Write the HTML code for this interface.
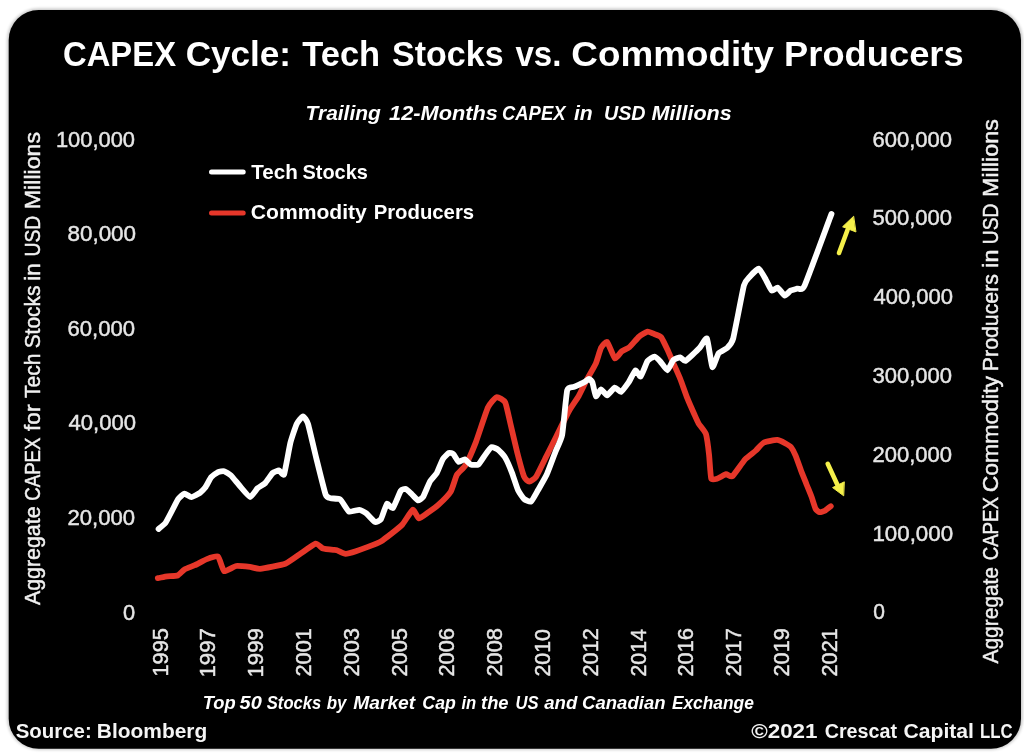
<!DOCTYPE html>
<html><head><meta charset="utf-8"><style>
html,body{margin:0;padding:0;background:#fff;width:1024px;height:754px;overflow:hidden}
svg{display:block;filter:blur(0.6px)}
text{font-family:"Liberation Sans", sans-serif}
.title{font-weight:bold;font-size:35.6px;fill:#fff}
.sub{font-weight:bold;font-style:italic;font-size:20.0px;fill:#fff}
.leg{font-weight:bold;font-size:19.9px;fill:#fff}
.ax{font-size:21.4px;fill:#e6e6e6;stroke:#e6e6e6;stroke-width:0.45px}
.yr{font-size:21.8px;fill:#e6e6e6;stroke:#e6e6e6;stroke-width:0.45px}
.ytl{font-size:21.2px;fill:#f0f0f0;stroke:#f0f0f0;stroke-width:0.45px}
.cap{font-weight:bold;font-style:italic;font-size:17.5px;fill:#fff}
.src{font-weight:bold;font-size:20.3px;fill:#f5f5f5}

</style></head><body>
<svg width="1024" height="754" viewBox="0 0 1024 754">
<rect x="0" y="0" width="1024" height="754" fill="#ffffff"/>
<defs><filter id="sh" x="-2%" y="-2%" width="104%" height="104%"><feGaussianBlur stdDeviation="1.6"/></filter></defs>
<rect x="7.2" y="8.6" width="1015.5" height="741.1" rx="31.5" ry="31.5" fill="#000" opacity="0.22" filter="url(#sh)"/>
<rect id="card" x="8.7" y="10" width="1012.3" height="738.7" rx="30" ry="30" fill="#000"/>
<g id="lines">
<line x1="211.5" y1="172.1" x2="243.2" y2="172.1" stroke="#fff" stroke-width="5" stroke-linecap="round"/>
<line x1="211.5" y1="212.9" x2="243.2" y2="212.9" stroke="#e6372a" stroke-width="5" stroke-linecap="round"/>
<path d="M157.8,578.1 C158.6,578.0 165.6,576.6 167.2,576.4 C168.8,576.2 176.2,576.1 177.6,575.5 C179.0,574.9 183.1,570.3 184.5,569.5 C185.9,568.7 193.0,566.0 194.8,565.2 C196.6,564.4 205.0,559.8 206.9,559.1 C208.8,558.4 216.7,555.6 218.1,556.6 C219.5,557.6 222.7,570.4 224.1,571.2 C225.5,572.0 234.1,566.3 236.2,566.0 C238.3,565.7 248.1,566.7 250.0,566.9 C251.9,567.1 257.4,569.1 260.2,568.8 C263.0,568.5 282.1,564.9 285.3,563.7 C288.5,562.5 298.1,555.3 300.5,553.7 C302.9,552.1 313.8,544.0 315.6,543.6 C317.4,543.2 321.7,548.1 323.1,548.6 C324.5,549.1 332.1,549.8 333.2,549.9 C334.3,550.0 335.9,550.0 336.9,550.3 C337.9,550.6 344.0,553.7 345.5,553.8 C347.0,553.9 354.1,551.8 355.9,551.2 C357.7,550.6 365.8,547.7 367.9,546.9 C370.0,546.1 379.8,542.0 381.7,540.9 C383.6,539.8 390.4,534.4 392.1,533.1 C393.8,531.8 400.7,526.4 402.4,524.5 C404.1,522.6 411.5,510.3 412.8,509.8 C414.1,509.3 417.6,518.2 418.8,518.4 C420.0,518.6 426.7,513.5 428.3,512.4 C429.9,511.3 436.8,506.4 438.6,504.7 C440.4,503.0 449.2,494.1 450.7,491.7 C452.2,489.3 455.7,476.9 456.9,474.8 C458.1,472.7 464.0,467.9 465.5,465.3 C467.0,462.7 474.1,446.7 475.9,442.1 C477.7,437.5 486.2,411.2 487.9,407.6 C489.6,404.0 495.2,397.6 496.6,397.2 C498.0,396.8 504.1,400.3 505.2,402.4 C506.3,404.5 509.3,419.1 510.3,423.1 C511.3,427.1 516.1,448.1 517.2,452.4 C518.3,456.7 523.1,474.3 524.1,476.6 C525.1,478.9 528.3,481.7 529.3,481.7 C530.3,481.7 534.8,478.7 536.2,476.6 C537.6,474.5 544.9,459.2 546.6,455.9 C548.3,452.6 555.1,438.8 556.9,435.2 C558.7,431.6 567.3,414.1 569.0,411.0 C570.7,407.9 577.1,398.8 578.6,396.2 C580.1,393.6 585.8,381.6 587.2,379.0 C588.6,376.4 594.8,365.9 595.9,363.4 C597.0,360.9 600.1,349.6 601.0,347.9 C601.9,346.2 606.0,341.1 607.1,341.9 C608.2,342.7 613.6,357.5 614.8,358.3 C616.0,359.1 620.5,352.3 621.7,351.4 C622.9,350.5 628.1,348.3 629.5,347.1 C630.9,345.9 637.6,337.9 639.0,336.7 C640.4,335.5 646.4,331.8 647.6,331.6 C648.8,331.4 653.4,333.6 654.5,334.1 C655.6,334.6 660.3,336.2 661.4,337.6 C662.5,339.0 667.3,349.3 668.3,351.4 C669.3,353.5 672.4,361.2 673.4,363.4 C674.4,365.6 679.2,376.2 680.3,379.0 C681.4,381.8 686.1,395.1 687.2,397.9 C688.3,400.7 693.3,412.0 694.2,414.0 C695.1,416.0 697.6,421.7 698.5,423.3 C699.4,424.9 705.1,431.4 705.9,433.9 C706.7,436.4 708.7,451.5 709.1,455.1 C709.5,458.7 710.5,476.6 711.2,478.5 C711.9,480.4 716.4,478.8 717.6,478.5 C718.8,478.2 724.9,474.4 726.1,474.2 C727.3,474.0 730.9,477.5 732.4,476.3 C733.9,475.1 743.2,461.5 745.1,459.4 C747.0,457.3 754.4,451.9 755.9,450.5 C757.4,449.1 762.2,443.3 763.9,442.5 C765.6,441.7 775.4,439.8 777.1,439.9 C778.8,440.0 784.0,442.6 785.1,443.2 C786.2,443.8 790.3,446.2 791.1,447.2 C791.9,448.2 794.9,453.9 795.7,455.8 C796.5,457.7 800.2,468.2 801.0,470.4 C801.8,472.6 805.5,481.6 806.3,483.7 C807.1,485.8 810.9,494.9 811.6,496.9 C812.3,498.9 815.0,507.7 815.6,508.9 C816.2,510.1 818.9,512.0 819.6,512.2 C820.3,512.4 824.0,511.3 824.9,510.8 C825.8,510.3 830.3,506.6 830.8,506.2" fill="none" stroke="#e6372a" stroke-width="5.8" stroke-linejoin="round" stroke-linecap="round"/>
<path d="M158.6,529.0 C159.2,528.5 164.4,524.4 165.5,522.9 C166.6,521.4 171.4,511.9 172.4,510.0 C173.4,508.1 177.4,500.1 178.4,498.8 C179.4,497.5 183.5,493.7 184.5,493.6 C185.5,493.5 190.2,497.2 191.4,497.1 C192.6,497.0 198.9,493.6 200.0,492.8 C201.1,492.0 204.3,488.8 205.2,487.6 C206.1,486.4 210.2,478.4 211.2,477.2 C212.2,476.0 217.1,472.6 218.1,472.1 C219.1,471.6 223.1,470.9 224.1,471.2 C225.1,471.5 229.8,474.3 231.0,475.5 C232.2,476.7 238.2,484.2 239.7,485.9 C241.2,487.6 248.7,496.8 250.1,497.0 C251.5,497.2 256.4,489.3 257.6,488.2 C258.8,487.1 264.0,484.3 265.2,483.1 C266.4,481.9 271.6,474.0 272.7,473.0 C273.8,472.0 278.1,470.4 279.0,470.5 C279.9,470.6 283.2,476.5 284.1,474.3 C285.0,472.1 289.4,446.8 290.4,442.8 C291.4,438.8 295.7,426.0 296.7,423.9 C297.7,421.8 302.1,416.4 303.0,416.4 C303.9,416.4 307.0,420.8 308.0,423.9 C309.0,427.0 314.2,449.8 315.6,455.4 C317.0,461.0 324.4,491.1 325.6,494.5 C326.8,497.9 329.5,497.8 330.7,498.2 C331.9,498.6 338.8,498.4 340.3,499.5 C341.8,500.6 347.5,510.8 349.0,511.6 C350.5,512.4 357.9,509.7 359.3,509.8 C360.7,509.9 365.0,512.3 366.2,513.3 C367.4,514.3 373.6,521.4 374.8,521.9 C376.0,522.4 379.9,520.7 380.9,519.3 C381.9,517.9 385.9,504.7 386.9,503.8 C387.9,502.9 391.8,509.1 392.9,508.1 C394.0,507.1 399.7,492.4 400.7,490.9 C401.7,489.4 405.0,488.8 405.9,489.1 C406.8,489.4 410.9,493.4 411.9,494.3 C412.9,495.2 417.0,500.1 417.9,500.3 C418.8,500.5 422.1,498.4 423.1,496.9 C424.1,495.4 428.9,483.3 430.0,481.4 C431.1,479.5 435.9,474.6 436.9,472.8 C437.9,471.0 441.9,460.6 442.9,459.0 C443.9,457.4 448.2,453.3 449.0,452.9 C449.8,452.5 452.6,453.4 453.4,454.1 C454.2,454.8 457.7,461.5 458.6,461.9 C459.5,462.3 463.7,459.1 464.7,459.3 C465.7,459.5 469.6,464.1 470.7,464.5 C471.8,464.9 477.3,465.2 478.4,464.5 C479.5,463.8 483.5,457.3 484.5,455.9 C485.5,454.5 490.3,447.7 491.4,447.2 C492.5,446.7 497.2,449.0 498.3,449.8 C499.4,450.6 504.1,455.7 505.2,457.6 C506.3,459.5 511.1,470.5 512.1,473.1 C513.1,475.7 517.1,488.2 518.1,490.3 C519.1,492.4 523.1,498.1 524.1,499.0 C525.1,499.9 529.9,502.3 531.0,501.6 C532.1,500.9 536.7,492.4 537.9,490.3 C539.1,488.2 545.2,477.8 546.6,474.8 C548.0,471.8 554.0,455.6 555.2,452.4 C556.4,449.2 561.1,440.2 562.1,435.2 C563.1,430.2 566.2,394.2 567.2,390.3 C568.2,386.4 572.8,387.5 574.1,386.9 C575.4,386.3 582.6,383.0 583.8,382.4 C585.0,381.8 588.3,379.0 589.0,379.0 C589.7,379.0 591.8,381.0 592.4,382.4 C593.0,383.8 595.2,395.6 595.9,396.2 C596.6,396.8 600.1,389.4 601.0,389.3 C601.9,389.2 606.0,395.4 607.1,395.3 C608.2,395.2 613.7,387.9 614.8,387.6 C615.9,387.3 619.8,392.3 620.9,391.9 C622.0,391.5 627.4,384.1 628.6,382.4 C629.8,380.7 634.5,370.8 635.5,370.3 C636.5,369.8 639.7,377.2 640.7,376.4 C641.7,375.6 646.5,362.5 647.6,360.9 C648.7,359.3 653.5,356.5 654.5,356.6 C655.5,356.7 659.5,360.6 660.5,361.7 C661.5,362.8 666.4,370.4 667.4,370.3 C668.4,370.2 672.4,361.0 673.4,360.0 C674.4,359.0 679.3,357.3 680.3,357.4 C681.3,357.5 684.0,361.7 685.5,360.9 C687.0,360.1 697.8,349.8 699.5,348.0 C701.2,346.2 706.0,337.0 707.0,338.5 C708.0,340.0 711.4,365.9 712.3,367.1 C713.2,368.3 717.4,354.8 718.6,353.3 C719.8,351.8 725.9,349.2 727.1,348.0 C728.3,346.8 731.9,343.5 733.2,338.5 C734.5,333.5 742.6,290.6 743.9,285.6 C745.2,280.6 748.7,278.0 749.9,276.6 C751.1,275.2 757.5,268.5 758.8,268.7 C760.1,268.9 764.8,277.8 765.8,279.6 C766.8,281.4 770.8,290.0 771.8,290.6 C772.8,291.2 776.7,287.2 777.7,287.6 C778.7,288.0 783.7,295.4 784.7,295.6 C785.7,295.8 789.7,291.2 790.7,290.6 C791.7,290.0 796.5,289.0 797.6,288.6 C798.7,288.2 801.9,291.6 804.6,285.6 C807.3,279.6 829.3,219.6 831.5,213.9" fill="none" stroke="#fff" stroke-width="5.8" stroke-linejoin="round" stroke-linecap="round"/>
<g stroke="#f5f04a" stroke-width="4.6" fill="#f5f04a" stroke-linecap="round">
<line x1="839" y1="253" x2="847.5" y2="230"/>
<polygon points="853.4,216.5 842.6,226.8 855.6,231.8" stroke="#f5f04a" stroke-width="1" stroke-linejoin="round"/>
<line x1="827.7" y1="463.8" x2="837.5" y2="485"/>
<polygon points="843.4,495.6 832.6,487.6 844,482" stroke="#f5f04a" stroke-width="1" stroke-linejoin="round"/>
</g>
</g>
<text id="t0" x="62.99" y="66.00" class="title" textLength="113.04" lengthAdjust="spacingAndGlyphs">CAPEX</text>
<text id="t1" x="185.63" y="66.00" class="title" textLength="105.41" lengthAdjust="spacingAndGlyphs">Cycle:</text>
<text id="t2" x="302.26" y="66.00" class="title" textLength="77.93" lengthAdjust="spacingAndGlyphs">Tech</text>
<text id="t3" x="392.06" y="66.00" class="title" textLength="111.50" lengthAdjust="spacingAndGlyphs">Stocks</text>
<text id="t4" x="515.42" y="66.00" class="title" textLength="45.93" lengthAdjust="spacingAndGlyphs">vs.</text>
<text id="t5" x="571.38" y="66.00" class="title" textLength="202.53" lengthAdjust="spacingAndGlyphs">Commodity</text>
<text id="t6" x="784.14" y="66.00" class="title" textLength="179.50" lengthAdjust="spacingAndGlyphs">Producers</text>
<text id="s0" x="305.54" y="120.00" class="sub" textLength="75.38" lengthAdjust="spacingAndGlyphs">Trailing</text>
<text id="s1" x="389.09" y="120.00" class="sub" textLength="108.75" lengthAdjust="spacingAndGlyphs">12-Months</text>
<text id="s2" x="502.00" y="120.00" class="sub" textLength="63.44" lengthAdjust="spacingAndGlyphs">CAPEX</text>
<text id="s3" x="574.00" y="120.00" class="sub" textLength="18.78" lengthAdjust="spacingAndGlyphs">in</text>
<text id="s4" x="603.97" y="120.00" class="sub" textLength="41.60" lengthAdjust="spacingAndGlyphs">USD</text>
<text id="s5" x="651.46" y="120.00" class="sub" textLength="80.37" lengthAdjust="spacingAndGlyphs">Millions</text>
<text id="l0" x="251.23" y="179.30" class="leg" textLength="46.58" lengthAdjust="spacingAndGlyphs">Tech</text>
<text id="l1" x="302.43" y="179.30" class="leg" textLength="65.44" lengthAdjust="spacingAndGlyphs">Stocks</text>
<text id="l2" x="250.79" y="218.50" class="leg" textLength="116.01" lengthAdjust="spacingAndGlyphs">Commodity</text>
<text id="l3" x="373.66" y="218.50" class="leg" textLength="100.47" lengthAdjust="spacingAndGlyphs">Producers</text>
<text id="al0" x="55.95" y="146.60" class="ax" textLength="79.09" lengthAdjust="spacingAndGlyphs">100,000</text>
<text id="al1" x="67.52" y="241.20" class="ax" textLength="68.54" lengthAdjust="spacingAndGlyphs">80,000</text>
<text id="al2" x="67.53" y="335.80" class="ax" textLength="67.52" lengthAdjust="spacingAndGlyphs">60,000</text>
<text id="al3" x="68.58" y="430.40" class="ax" textLength="67.46" lengthAdjust="spacingAndGlyphs">40,000</text>
<text id="al4" x="67.53" y="525.00" class="ax" textLength="67.52" lengthAdjust="spacingAndGlyphs">20,000</text>
<text id="al5" x="123.01" y="619.60" class="ax" textLength="12.13" lengthAdjust="spacingAndGlyphs">0</text>
<text id="ar0" x="872.45" y="146.50" class="ax" textLength="79.58" lengthAdjust="spacingAndGlyphs">600,000</text>
<text id="ar1" x="872.45" y="225.33" class="ax" textLength="79.58" lengthAdjust="spacingAndGlyphs">500,000</text>
<text id="ar2" x="873.46" y="304.16" class="ax" textLength="79.56" lengthAdjust="spacingAndGlyphs">400,000</text>
<text id="ar3" x="872.45" y="382.99" class="ax" textLength="79.58" lengthAdjust="spacingAndGlyphs">300,000</text>
<text id="ar4" x="872.45" y="461.82" class="ax" textLength="79.58" lengthAdjust="spacingAndGlyphs">200,000</text>
<text id="ar5" x="872.43" y="540.65" class="ax" textLength="80.62" lengthAdjust="spacingAndGlyphs">100,000</text>
<text id="ar6" x="873.29" y="619.48" class="ax" textLength="11.68" lengthAdjust="spacingAndGlyphs">0</text>
<text id="y0" transform="translate(167.60,676.54) rotate(-90)" class="yr" textLength="48.40" lengthAdjust="spacingAndGlyphs">1995</text>
<text id="y1" transform="translate(215.39,677.56) rotate(-90)" class="yr" textLength="49.50" lengthAdjust="spacingAndGlyphs">1997</text>
<text id="y2" transform="translate(263.18,677.55) rotate(-90)" class="yr" textLength="49.41" lengthAdjust="spacingAndGlyphs">1999</text>
<text id="y3" transform="translate(310.97,676.51) rotate(-90)" class="yr" textLength="48.36" lengthAdjust="spacingAndGlyphs">2001</text>
<text id="y4" transform="translate(358.76,676.54) rotate(-90)" class="yr" textLength="48.43" lengthAdjust="spacingAndGlyphs">2003</text>
<text id="y5" transform="translate(406.55,676.53) rotate(-90)" class="yr" textLength="48.43" lengthAdjust="spacingAndGlyphs">2005</text>
<text id="y6" transform="translate(454.34,676.54) rotate(-90)" class="yr" textLength="48.43" lengthAdjust="spacingAndGlyphs">2006</text>
<text id="y7" transform="translate(502.13,676.54) rotate(-90)" class="yr" textLength="48.43" lengthAdjust="spacingAndGlyphs">2008</text>
<text id="y8" transform="translate(549.92,676.48) rotate(-90)" class="yr" textLength="47.33" lengthAdjust="spacingAndGlyphs">2010</text>
<text id="y9" transform="translate(597.71,676.49) rotate(-90)" class="yr" textLength="48.34" lengthAdjust="spacingAndGlyphs">2012</text>
<text id="y10" transform="translate(645.50,676.47) rotate(-90)" class="yr" textLength="47.31" lengthAdjust="spacingAndGlyphs">2014</text>
<text id="y11" transform="translate(693.29,676.54) rotate(-90)" class="yr" textLength="48.43" lengthAdjust="spacingAndGlyphs">2016</text>
<text id="y12" transform="translate(741.08,676.49) rotate(-90)" class="yr" textLength="48.34" lengthAdjust="spacingAndGlyphs">2017</text>
<text id="y13" transform="translate(788.87,676.50) rotate(-90)" class="yr" textLength="48.36" lengthAdjust="spacingAndGlyphs">2019</text>
<text id="y14" transform="translate(836.66,676.51) rotate(-90)" class="yr" textLength="48.36" lengthAdjust="spacingAndGlyphs">2021</text>
<text id="yl0" transform="translate(40.10,605.01) rotate(-90)" class="ytl" textLength="98.54" lengthAdjust="spacingAndGlyphs">Aggregate</text>
<text id="yl1" transform="translate(40.10,500.76) rotate(-90)" class="ytl" textLength="63.20" lengthAdjust="spacingAndGlyphs">CAPEX</text>
<text id="yl2" transform="translate(40.10,430.93) rotate(-90)" class="ytl" textLength="26.41" lengthAdjust="spacingAndGlyphs">for</text>
<text id="yl3" transform="translate(40.10,397.88) rotate(-90)" class="ytl" textLength="44.37" lengthAdjust="spacingAndGlyphs">Tech</text>
<text id="yl4" transform="translate(40.10,348.36) rotate(-90)" class="ytl" textLength="62.81" lengthAdjust="spacingAndGlyphs">Stocks</text>
<text id="yl5" transform="translate(40.10,280.64) rotate(-90)" class="ytl" textLength="17.50" lengthAdjust="spacingAndGlyphs">in</text>
<text id="yl6" transform="translate(40.10,256.57) rotate(-90)" class="ytl" textLength="40.91" lengthAdjust="spacingAndGlyphs">USD</text>
<text id="yl7" transform="translate(40.10,209.20) rotate(-90)" class="ytl" textLength="77.21" lengthAdjust="spacingAndGlyphs">Millions</text>
<text id="yr0" transform="translate(998.20,663.41) rotate(-90)" class="ytl" textLength="96.33" lengthAdjust="spacingAndGlyphs">Aggregate</text>
<text id="yr1" transform="translate(998.20,560.32) rotate(-90)" class="ytl" textLength="63.14" lengthAdjust="spacingAndGlyphs">CAPEX</text>
<text id="yr2" transform="translate(998.20,492.35) rotate(-90)" class="ytl" textLength="116.38" lengthAdjust="spacingAndGlyphs">Commodity</text>
<text id="yr3" transform="translate(998.20,371.13) rotate(-90)" class="ytl" textLength="97.05" lengthAdjust="spacingAndGlyphs">Producers</text>
<text id="yr4" transform="translate(998.20,267.77) rotate(-90)" class="ytl" textLength="18.06" lengthAdjust="spacingAndGlyphs">in</text>
<text id="yr5" transform="translate(998.20,244.17) rotate(-90)" class="ytl" textLength="40.51" lengthAdjust="spacingAndGlyphs">USD</text>
<text id="yr6" transform="translate(998.20,197.05) rotate(-90)" class="ytl" textLength="77.98" lengthAdjust="spacingAndGlyphs">Millions</text>
<text id="c0" x="202.69" y="708.50" class="cap" textLength="32.89" lengthAdjust="spacingAndGlyphs">Top</text>
<text id="c1" x="239.57" y="708.50" class="cap" textLength="22.17" lengthAdjust="spacingAndGlyphs">50</text>
<text id="c2" x="266.77" y="708.50" class="cap" textLength="54.47" lengthAdjust="spacingAndGlyphs">Stocks</text>
<text id="c3" x="326.74" y="708.50" class="cap" textLength="19.68" lengthAdjust="spacingAndGlyphs">by</text>
<text id="c4" x="353.16" y="708.50" class="cap" textLength="62.06" lengthAdjust="spacingAndGlyphs">Market</text>
<text id="c5" x="422.39" y="708.50" class="cap" textLength="33.42" lengthAdjust="spacingAndGlyphs">Cap</text>
<text id="c6" x="461.44" y="708.50" class="cap" textLength="14.83" lengthAdjust="spacingAndGlyphs">in</text>
<text id="c7" x="481.04" y="708.50" class="cap" textLength="27.47" lengthAdjust="spacingAndGlyphs">the</text>
<text id="c8" x="515.48" y="708.50" class="cap" textLength="23.05" lengthAdjust="spacingAndGlyphs">US</text>
<text id="c9" x="544.21" y="708.50" class="cap" textLength="33.12" lengthAdjust="spacingAndGlyphs">and</text>
<text id="c10" x="582.07" y="708.50" class="cap" textLength="83.47" lengthAdjust="spacingAndGlyphs">Canadian</text>
<text id="c11" x="671.89" y="708.50" class="cap" textLength="82.02" lengthAdjust="spacingAndGlyphs">Exchange</text>
<text id="src0" x="15.74" y="738.40" class="src" textLength="75.94" lengthAdjust="spacingAndGlyphs">Source:</text>
<text id="src1" x="96.86" y="738.40" class="src" textLength="110.38" lengthAdjust="spacingAndGlyphs">Bloomberg</text>
<text id="cr0" x="751.16" y="737.60" class="src" textLength="66.36" lengthAdjust="spacingAndGlyphs">©2021</text>
<text id="cr1" x="824.65" y="737.60" class="src" textLength="72.35" lengthAdjust="spacingAndGlyphs">Crescat</text>
<text id="cr2" x="903.44" y="737.60" class="src" textLength="70.51" lengthAdjust="spacingAndGlyphs">Capital</text>
<text id="cr3" x="980.00" y="737.60" class="src" textLength="32.59" lengthAdjust="spacingAndGlyphs">LLC</text>
</svg>
</body></html>
